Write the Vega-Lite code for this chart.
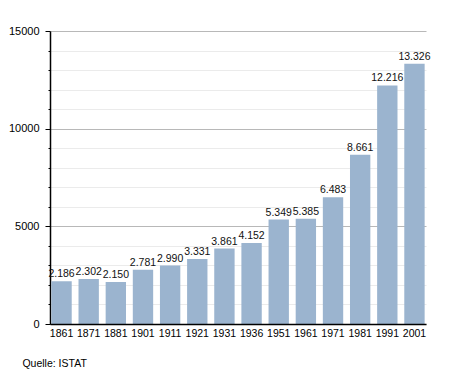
{
  "$schema": "https://vega.github.io/schema/vega-lite/v6.json",
  "width": 376,
  "height": 293,
  "autosize": {"type": "none"},
  "padding": {"left": 50, "top": 31, "right": 29, "bottom": 49},
  "background": "white",
  "config": {
    "locale": {"number": {"decimal": ",", "thousands": ".", "grouping": [3], "currency": ["", " €"]}},
    "font": "Liberation Sans",
    "view": {"stroke": null}
  },
  "title": {
    "text": "Quelle: ISTAT",
    "orient": "bottom",
    "anchor": "start",
    "fontSize": 10.5,
    "fontWeight": "normal",
    "color": "#000",
    "font": "Liberation Sans",
    "dx": 14,
    "offset": 20
  },
  "data": {
    "values": [
      {"Jahr": "1861", "Einwohner": 2186},
      {"Jahr": "1871", "Einwohner": 2302},
      {"Jahr": "1881", "Einwohner": 2150},
      {"Jahr": "1901", "Einwohner": 2781},
      {"Jahr": "1911", "Einwohner": 2990},
      {"Jahr": "1921", "Einwohner": 3331},
      {"Jahr": "1931", "Einwohner": 3861},
      {"Jahr": "1936", "Einwohner": 4152},
      {"Jahr": "1951", "Einwohner": 5349},
      {"Jahr": "1961", "Einwohner": 5385},
      {"Jahr": "1971", "Einwohner": 6483},
      {"Jahr": "1981", "Einwohner": 8661},
      {"Jahr": "1991", "Einwohner": 12216},
      {"Jahr": "2001", "Einwohner": 13326}
    ]
  },
  "encoding": {
    "x": {
      "field": "Jahr",
      "type": "ordinal",
      "sort": null,
      "scale": {"paddingInner": 0.25, "paddingOuter": 0.05},
      "axis": {
        "title": null,
        "labelAngle": 0,
        "ticks": false,
        "labelPadding": 4,
        "labelFontSize": 10.5,
        "labelColor": "#000",
        "domainColor": "#000",
        "domainWidth": 1.5,
        "zindex": 2
      }
    },
    "y": {
      "field": "Einwohner",
      "type": "quantitative",
      "scale": {"domain": [0, 15000], "nice": false},
      "axis": {
        "title": null,
        "values": [0, 1000, 2000, 3000, 4000, 5000, 6000, 7000, 8000, 9000, 10000, 11000, 12000, 13000, 14000, 15000],
        "format": "d",
        "labelExpr": "datum.value % 5000 === 0 ? datum.label : ''",
        "labelFontSize": 11,
        "labelColor": "#000",
        "labelPadding": 6,
        "domainColor": "#000",
        "domainWidth": 1.5,
        "tickColor": "#000",
        "tickSize": {"condition": {"test": "datum.value % 5000 === 0", "value": 5}, "value": 2},
        "gridColor": {"condition": {"test": "datum.value % 5000 === 0", "value": "#b8b8b8"}, "value": "#ebebeb"},
        "zindex": 0
      }
    }
  },
  "layer": [
    {"mark": {"type": "bar", "color": "#9bb4cf"}},
    {
      "mark": {"type": "text", "baseline": "bottom", "dy": -2, "fontSize": 10.5, "color": "#111"},
      "encoding": {"text": {"field": "Einwohner", "type": "quantitative", "format": ",d"}}
    }
  ]
}
